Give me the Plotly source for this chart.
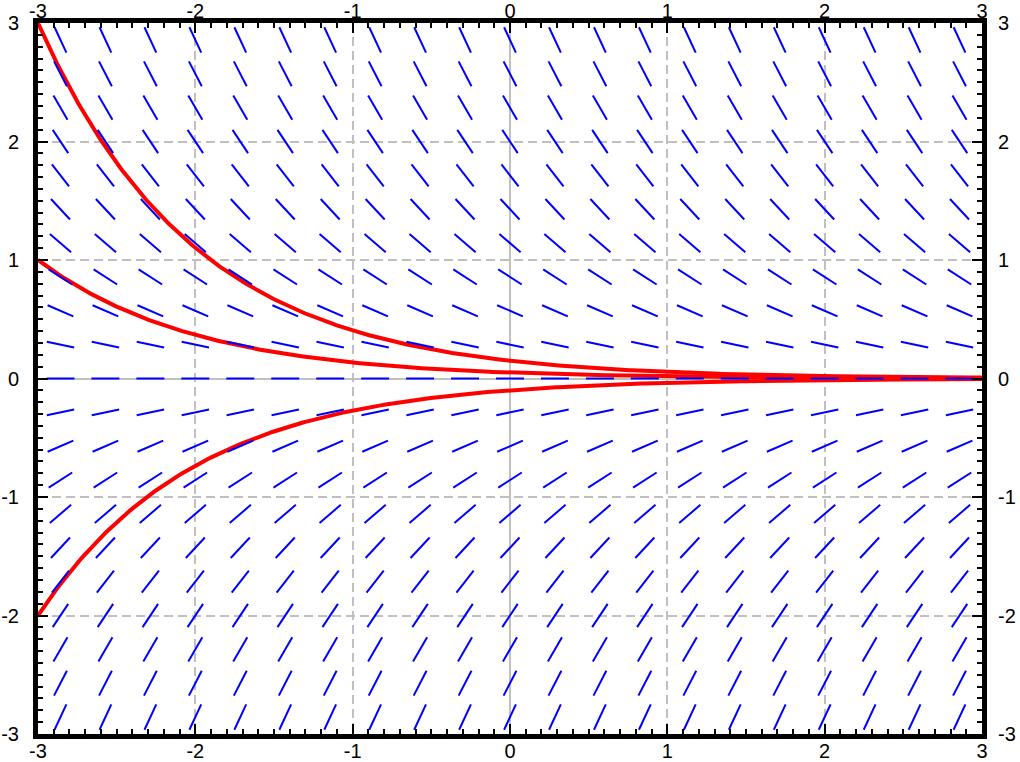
import numpy as np
import plotly.graph_objects as go

# ODE dy/dx = -y ; slope field sample grid and solution curves
grid_x = [-3 + 1/7 + k * 2/7 for k in range(21)]
grid_y = [-3 + 1/7 + k * 2/7 for k in range(21)]
initial_x = -3.0
initial_y = [3.0, 1.0, -2.0]
tick_vals = [-3, -2, -1, 0, 1, 2, 3]
tick_text = ["-3", "-2", "-1", "0", "1", "2", "3"]

def slope(x, y):
    return -y

W, H = 1020, 762
ML, MR, MT, MB = 38, 38, 23, 28
pw, ph = W - ML - MR, H - MT - MB
kx, ky = pw / 6.0, ph / 6.0
half = 14.0  # half segment length in px

sx, sy = [], []
for y in grid_y:
    for x in grid_x:
        m = slope(x, y)
        vx, vy = 1.0, m * ky / kx
        n = np.hypot(vx, vy)
        dx = half * vx / n / kx
        dy = half * vy / n / ky
        sx += [x - dx, x + dx, None]
        sy += [y - dy, y + dy, None]

fig = go.Figure()
xs = np.linspace(-3, 3, 400)
for c in initial_y:
    fig.add_trace(go.Scatter(x=xs, y=c * np.exp(-(xs - initial_x)), mode="lines",
                             line=dict(color="#ff0000", width=4), hoverinfo="skip",
                             showlegend=False))
fig.add_trace(go.Scatter(x=sx, y=sy, mode="lines", line=dict(color="#0000ff", width=2),
                         hoverinfo="skip", showlegend=False))
fig.add_trace(go.Scatter(x=[0], y=[0], xaxis="x2", yaxis="y2", mode="markers",
                         marker=dict(opacity=0), hoverinfo="skip", showlegend=False))

font = dict(family="Liberation Sans, Arial, sans-serif", size=20, color="black")
common = dict(range=[-3, 3], tickvals=tick_vals, ticktext=tick_text, tickfont=font,
              automargin=False)
fig.update_layout(
    width=W, height=H, margin=dict(l=ML, r=MR, t=MT, b=MB, autoexpand=False),
    paper_bgcolor="white", plot_bgcolor="white", showlegend=False,
    xaxis=dict(**common, showline=True, linecolor="black", linewidth=5, mirror="allticks",
               ticks="inside", ticklen=10, tickwidth=2, tickcolor="black",
               ticklabelstandoff=-5,
               showgrid=True, gridcolor="#c0c0c0", gridwidth=2, griddash="9px,5px",
               zeroline=True, zerolinecolor="#c0c0c0", zerolinewidth=2,
               minor=dict(dtick=0.1, tick0=0, ticks="inside", ticklen=5, tickwidth=2,
                          tickcolor="black", showgrid=False)),
    yaxis=dict(**common, showline=True, linecolor="black", linewidth=5, mirror="allticks",
               ticks="inside", ticklen=10, tickwidth=2, tickcolor="black",
               ticklabelstandoff=10,
               showgrid=True, gridcolor="#c0c0c0", gridwidth=2, griddash="9px,5px",
               zeroline=True, zerolinecolor="#c0c0c0", zerolinewidth=2,
               minor=dict(dtick=0.1, tick0=0, ticks="inside", ticklen=5, tickwidth=2,
                          tickcolor="black", showgrid=False)),
    xaxis2=dict(**common, overlaying="x", side="top", showline=False, showgrid=False,
                zeroline=False, ticks="", ticklabelstandoff=0),
    yaxis2=dict(**common, overlaying="y", side="right", showline=False, showgrid=False,
                zeroline=False, ticks="", ticklabelstandoff=15),
)
fig.write_html("out.html", config={"displayModeBar": False},
               post_script="document.body.style.margin='0';document.body.style.padding='0';")
